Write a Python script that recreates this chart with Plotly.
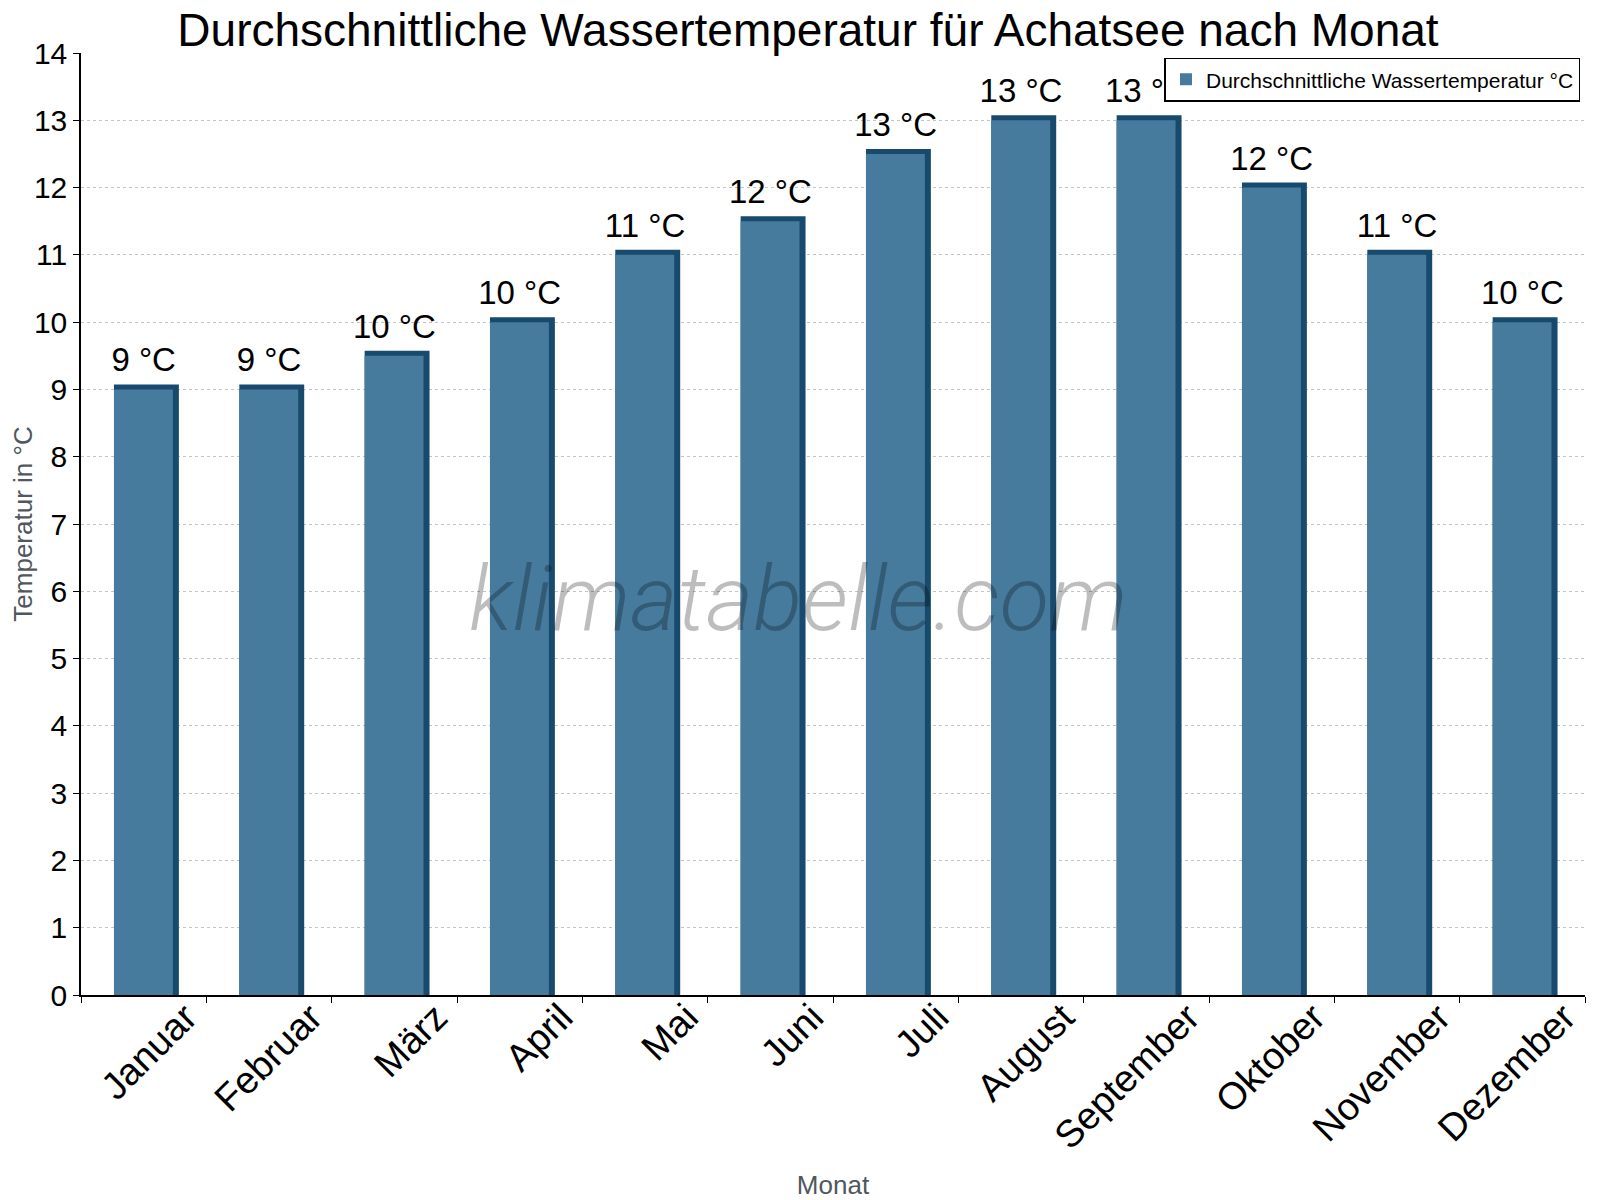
import plotly.graph_objects as go

monate = ['Januar', 'Februar', 'März', 'April', 'Mai', 'Juni', 'Juli',
          'August', 'September', 'Oktober', 'November', 'Dezember']
wassertemp = [9, 9, 9.5, 10, 11, 11.5, 12.5, 13, 13, 12, 11, 10]
beschriftung = ['9 °C', '9 °C', '10 °C', '10 °C', '11 °C', '12 °C', '13 °C',
                '13 °C', '13 °C', '12 °C', '11 °C', '10 °C']

dunkel = '#174a6d'
hell = '#467b9e'

fig = go.Figure()

# dunkle Seite/Oberkante fuer den 3D-Effekt: schmalerer Balken mit dicker Kontur dahinter
fig.add_trace(go.Bar(x=monate, y=wassertemp, width=0.438, offset=-0.197,
                     marker={'color': dunkel, 'line': {'width': 10, 'color': dunkel}},
                     showlegend=False, hoverinfo='skip'))
# Vorderseite
fig.add_trace(go.Bar(x=monate, y=wassertemp, width=0.47, offset=-0.237,
                     marker={'color': hell, 'line': {'width': 0}},
                     name='Durchschnittliche Wassertemperatur °C'))
# Beschriftung (unsichtbarer Marker schiebt den Text ueber die dunkle Oberkante)
fig.add_trace(go.Scatter(x=monate, y=wassertemp, text=beschriftung, mode='markers+text',
                         marker={'size': 14, 'color': 'rgba(0,0,0,0)'},
                         textposition='top center', showlegend=False, hoverinfo='skip',
                         textfont={'size': 33, 'color': 'black'}, cliponaxis=False))

fig.add_annotation(text='klimatabelle.com', xref='paper', yref='paper', x=0.477, y=0.42,
                   showarrow=False,
                   font={'family': 'Roboto', 'size': 91, 'weight': 300, 'style': 'italic',
                         'color': 'rgba(0,0,0,0.26)'})

fig.update_layout(
    width=1600, height=1200,
    barmode='overlay',
    title={'text': 'Durchschnittliche Wassertemperatur für Achatsee nach Monat',
           'x': 0.5, 'xanchor': 'center', 'y': 0.982, 'yanchor': 'middle',
           'font': {'size': 46, 'color': 'black'}},
    font={'family': 'Liberation Sans, Arial', 'color': 'black'},
    plot_bgcolor='white', paper_bgcolor='white',
    margin={'l': 73, 'r': 23, 't': 45, 'b': 213},
    xaxis={'title': {'text': 'Monat', 'font': {'size': 26, 'color': '#50575d'}, 'standoff': 20},
           'range': [-0.5, 11.5],
           'tickangle': -45, 'tickfont': {'size': 38}, 'tickson': 'boundaries',
           'ticks': 'outside', 'ticklen': 6, 'tickcolor': 'black',
           'showline': True, 'linecolor': 'black', 'linewidth': 1.5,
           'ticklabelshift': 42, 'ticklabelstandoff': -17,
           'showgrid': False, 'automargin': False},
    yaxis={'title': {'text': 'Temperatur in °C', 'font': {'size': 26, 'color': '#50575d'},
                     'standoff': 12},
           'range': [0, 14], 'dtick': 1, 'tickfont': {'size': 30},
           'ticks': 'outside', 'ticklen': 6, 'tickcolor': 'black',
           'showline': True, 'linecolor': 'black', 'linewidth': 1.5,
           'showgrid': True, 'gridcolor': '#c4c4c4', 'griddash': 'dot', 'gridwidth': 1,
           'zeroline': False, 'automargin': False},
    legend={'x': 0.997, 'y': 0.995, 'xanchor': 'right', 'yanchor': 'top',
            'bordercolor': 'black', 'borderwidth': 1.5, 'bgcolor': 'white',
            'font': {'size': 21}},
)

fig.write_html('out.html')
